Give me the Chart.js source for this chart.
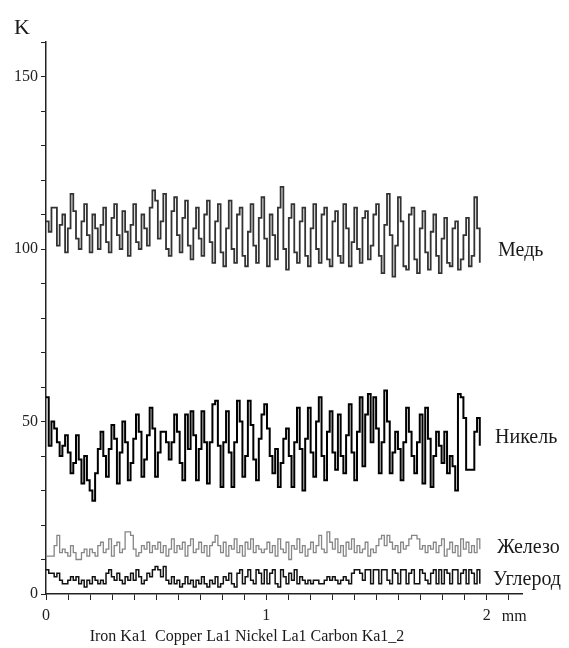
<!DOCTYPE html>
<html><head><meta charset="utf-8">
<script src="https://cdn.jsdelivr.net/npm/chart.js@4"></script>
<style>html,body{margin:0;padding:0;background:#fff;}canvas{display:block;}</style>
</head><body>
<canvas id="c" width="569" height="648"></canvas>
<script>
// sampling step along the scan (mm)
const X_STEP_MM = 0.01238;

const copper = [
 108,105,112,112,101,107,110,99,106,116,111,103,100,108,113,104,99,110,106,100,
 107,112,102,99,109,113,104,100,111,105,98,107,113,102,100,110,106,101,112,117,
 114,103,108,116,100,98,111,115,104,99,109,114,101,97,106,112,103,98,110,114,
 102,96,108,113,99,95,106,114,100,96,110,112,98,95,105,113,101,96,109,115,
 103,95,110,104,97,112,118,100,94,109,113,99,96,108,112,98,95,106,113,100,
 96,110,112,97,95,108,111,98,96,113,106,95,102,112,100,96,109,111,97,101,
 110,113,98,93,107,116,104,92,101,115,108,95,94,110,112,97,93,106,111,99,
 94,105,110,98,93,103,109,96,95,106,108,94,97,104,109,95,98,115,106,96
];
const nickel = [
 57,43,50,48,44,40,43,46,41,35,38,46,39,32,40,33,30,27,35,42,
 47,40,34,42,49,45,32,41,50,44,33,38,45,52,47,34,39,46,54,48,
 34,41,47,47,44,39,44,52,47,38,33,52,42,53,46,33,42,53,44,32,
 44,55,56,43,31,44,53,41,31,44,56,50,34,40,56,49,39,33,45,52,
 55,48,40,35,42,31,38,45,48,40,31,44,54,42,30,45,54,41,34,50,
 57,40,33,47,53,41,36,52,40,35,46,55,41,33,47,57,37,52,58,44,
 57,48,35,44,59,50,35,41,47,42,33,44,54,47,40,35,44,52,32,54,
 45,31,40,47,43,38,47,35,40,37,30,58,57,51,36,36,36,47,51,43
];
const iron = [
 11,11,11,14,17,12,13,12,11,14,12,10,10,12,13,11,13,12,11,14,
 15,12,13,16,11,14,15,12,13,18,18,17,13,11,12,14,13,15,12,14,
 13,15,12,14,11,13,16,12,14,13,15,11,14,16,12,13,15,12,14,11,
 14,15,17,14,12,15,11,14,13,16,12,14,11,15,13,16,12,14,13,12,
 13,15,12,14,11,16,13,12,15,10,14,13,16,12,14,11,13,15,12,14,
 17,13,12,18,15,13,16,12,14,11,15,13,16,12,14,12,13,15,11,13,
 12,14,16,17,14,17,15,13,14,12,15,13,14,16,17,17,16,13,14,12,
 14,13,15,12,14,16,11,13,15,12,14,11,16,13,15,12,14,12,16,13
];
const carbon = [
 7,6,6,5,6,4,3,3,4,5,4,5,3,4,2,4,3,5,4,3,
 4,3,6,7,5,4,6,4,3,5,4,6,4,7,5,3,4,6,5,7,
 8,7,5,8,4,3,5,3,4,2,3,5,3,4,2,4,3,5,3,2,
 4,3,5,2,3,5,4,6,3,2,6,7,3,5,7,4,3,7,6,3,
 7,3,6,7,3,2,7,5,3,6,4,7,3,5,4,3,4,3,4,4,
 3,3,4,5,4,5,4,3,4,5,4,3,6,7,7,6,4,7,7,3,
 7,7,3,7,7,4,3,7,6,3,7,7,3,6,7,3,3,7,6,4,
 3,6,7,3,7,3,7,6,3,7,7,3,6,7,3,7,6,3,7,3
];

const seriesNames = ['Медь', 'Никель', 'Железо', 'Углерод'];
const xTickLabels = ['0', '1', '2'];
const yTickLabels = ['0', '50', '100', '150'];
const yAxisTitle = 'K';
const xUnit = 'mm';
const xAxisTitle = 'Iron Ka1  Copper La1 Nickel La1 Carbon Ka1_2';

const toPoints = arr => arr.map((v, i) => ({ x: i * X_STEP_MM, y: v }));

const FONT = 'Liberation Serif';
Chart.defaults.font.family = FONT;

const labelPlugin = {
  id: 'labels',
  afterDraw(chart) {
    const ctx = chart.ctx;
    const xs = chart.scales.x, ys = chart.scales.y;
    ctx.save();
    ctx.fillStyle = '#1a1a1a';
    ctx.textAlign = 'left';
    ctx.textBaseline = 'middle';
    ctx.font = '22px "' + FONT + '"';
    ctx.fillText(yAxisTitle, 14, 28);
    ctx.font = '16px "' + FONT + '"';
    ctx.fillText(xUnit, xs.getPixelForValue(2) + 15, 617);
    ctx.textAlign = 'center';
    ctx.fillText(xAxisTitle, 247, 637);
    ctx.textAlign = 'left';
    ctx.font = '20px "' + FONT + '"';
    const anchors = [[498, 99.6], [495, 45.2], [497, 13.3], [493, 4.0]];
    seriesNames.forEach((n, i) => {
      ctx.fillText(n, anchors[i][0], ys.getPixelForValue(anchors[i][1]));
    });
    ctx.restore();
  }
};

new Chart(document.getElementById('c'), {
  type: 'line',
  data: {
    datasets: [
      { label: seriesNames[0], data: toPoints(copper), borderColor: '#333333', borderWidth: 1.8 },
      { label: seriesNames[1], data: toPoints(nickel), borderColor: '#000000', borderWidth: 2 },
      { label: seriesNames[2], data: toPoints(iron), borderColor: '#868686', borderWidth: 1.3 },
      { label: seriesNames[3], data: toPoints(carbon), borderColor: '#111111', borderWidth: 1.5 }
    ].map(d => Object.assign(d, { stepped: true, pointRadius: 0, fill: false, tension: 0 }))
  },
  options: {
    responsive: false,
    animation: false,
    devicePixelRatio: 1,
    layout: { padding: { top: 42, right: 47, bottom: 0, left: 0 } },
    plugins: { legend: { display: false }, tooltip: { enabled: false } },
    scales: {
      x: {
        type: 'linear', min: 0, max: 2.16,
        afterFit: s => { s.height = 54; },
        border: { color: '#222', width: 1.5 },
        grid: { drawOnChartArea: false, drawTicks: true, tickLength: 6, color: '#222' },
        ticks: {
          stepSize: 0.1, includeBounds: false, autoSkip: false, maxRotation: 0,
          color: '#222', font: { size: 16 }, padding: 6,
          callback: v => {
            const r = Math.round(v);
            return Math.abs(v - r) < 1e-6 && xTickLabels[r] !== undefined ? xTickLabels[r] : '';
          }
        }
      },
      y: {
        type: 'linear', min: 0, max: 160,
        afterFit: s => { s.width = 46; },
        border: { color: '#222', width: 1.5 },
        grid: { drawOnChartArea: false, drawTicks: true, tickLength: 5, color: '#222' },
        ticks: {
          stepSize: 10, includeBounds: false, autoSkip: false,
          color: '#222', font: { size: 16 }, padding: 3,
          callback: v => {
            const s = String(Math.round(v));
            return Math.abs(v % 50) < 1e-6 && yTickLabels.includes(s) ? s : '';
          }
        }
      }
    }
  },
  plugins: [labelPlugin]
});
</script>
</body></html>
